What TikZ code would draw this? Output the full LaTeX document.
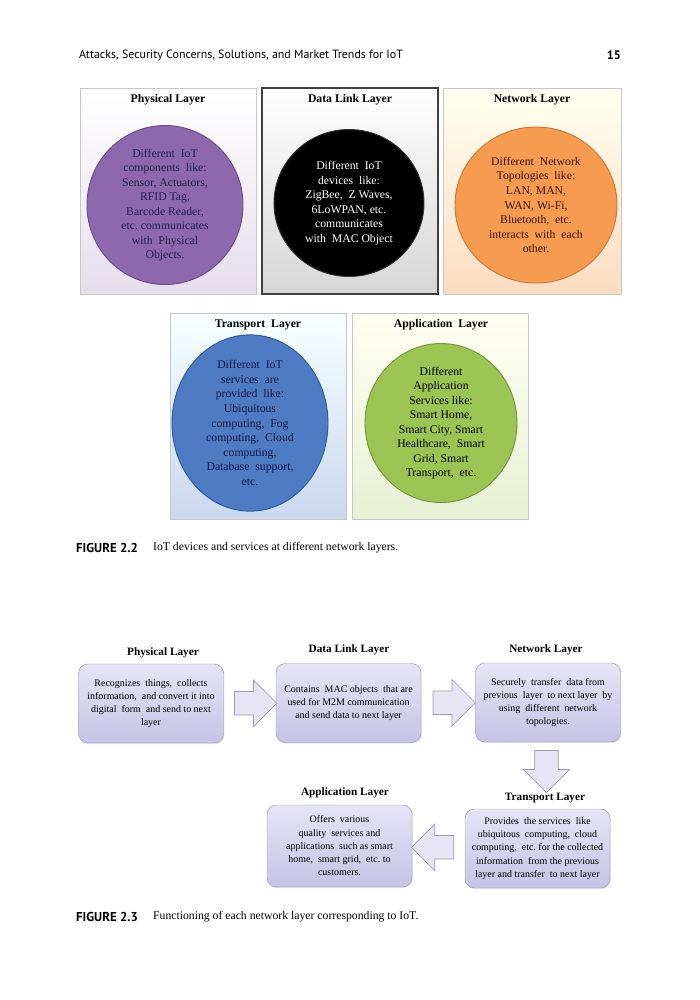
\documentclass[tikz,border=0pt]{standalone}
\usepackage{fontspec}
\setmainfont{Liberation Serif}
\newfontfamily\headfont{PT Sans}
\usepackage{tikz}
\usetikzlibrary{arrows,shapes.geometric,shapes.arrows,calc,shadows}
\usepackage{xcolor}

\newdimen\pxunit
\pxunit=0.03cm

\definecolor{phyfill}{HTML}{8D68AC}
\definecolor{phyline}{HTML}{6A4C8A}
\definecolor{phytext}{HTML}{1F2050}
\definecolor{netfill}{HTML}{F79B50}
\definecolor{netline}{HTML}{C8783A}
\definecolor{nettext}{HTML}{3B1010}
\definecolor{trafill}{HTML}{4E7BC4}
\definecolor{traline}{HTML}{2F5A9A}
\definecolor{tratext}{HTML}{111840}
\definecolor{appfill}{HTML}{9CC455}
\definecolor{appline}{HTML}{76963A}
\definecolor{boxtop}{HTML}{E6E4F5}
\definecolor{boxbot}{HTML}{C6C2E6}
\definecolor{boxline}{HTML}{9A98AC}

\begin{document}
\begin{tikzpicture}[x=0.03cm,y=-0.03cm,
  panel/.style={draw=black!22, line width=0.6pt, minimum width=176\pxunit,
    minimum height=206\pxunit, inner sep=0pt},
  paneltitle/.style={font=\fontsize{10}{12}\selectfont\bfseries},
  blob/.style={ellipse, line width=0.8pt, align=center, inner sep=0pt,
    font=\fontsize{10}{12.4}\selectfont},
  stepbox/.style={draw=boxline, rounded corners=8pt, top color=boxtop,
    bottom color=boxbot, minimum width=145\pxunit, minimum height=79\pxunit,
    align=center, font=\fontsize{8.5}{11.3}\selectfont,
    drop shadow={opacity=0.2, shadow xshift=0.8pt, shadow yshift=-1pt}},
  steptitle/.style={font=\fontsize{9.6}{11}\selectfont\bfseries},
  blockarrow/.style={single arrow, draw=boxline, fill=boxtop, line width=0.6pt,
    inner xsep=0pt, inner ysep=9.8pt, minimum height=36pt,
    single arrow head extend=9.7pt}]
\useasboundingbox (0,0) rectangle (700,1000);

% running head
\node[anchor=west, font=\headfont\fontsize{10.2}{12}\selectfont] (runhead) at (75,55)
  {Attacks, Security Concerns, Solutions, and Market Trends for IoT};
\node[anchor=east, font=\headfont\bfseries\fontsize{10.5}{12}\selectfont] (pageno) at (625,55) {15};

% figure 2.2 : the five layers
\node[panel, top color=white, bottom color=phyfill!22] (phyPanel) at (168,191) {};
\node[panel, draw=black!75, line width=1.2pt, top color=white, bottom color=black!16] (dllPanel) at (350,191) {};
\node[panel, minimum width=178\pxunit, top color=yellow!6, bottom color=netfill!35] (netPanel) at (532,191) {};
\node[panel, top color=cyan!3, bottom color=trafill!30] (traPanel) at (258.5,416) {};
\node[panel, top color=yellow!5, bottom color=appfill!25] (appPanel) at (440.5,416) {};

\node[paneltitle] (phyTitle) at (168,100) {Physical Layer};
\node[paneltitle] (dllTitle) at (350,100) {Data Link Layer};
\node[paneltitle] (netTitle) at (532,100) {Network Layer};
\node[paneltitle] (traTitle) at (258,325) {Transport\ \ Layer};
\node[paneltitle] (appTitle) at (441,325) {Application\ \ Layer};

\node[blob, draw=phyline, fill=phyfill, text=phytext, minimum width=156\pxunit,
  minimum height=156\pxunit] (phyBlob) at (165,205)
  {Different\ \ IoT\\components\ \ like:\\Sensor, Actuators,\\RFID Tag,\\Barcode Reader,\\
   etc.\ communicates\\with\ \ Physical\\Objects.};
\node[blob, draw=black!80, fill=black, text=white, minimum width=150\pxunit,
  minimum height=147\pxunit] (dllBlob) at (349,203)
  {Different\ \ IoT\\devices\ \ like:\\ZigBee,\ \ Z Waves,\\6LoWPAN, etc.\\communicates\\with\ \ MAC Object};
\node[blob, draw=netline, fill=netfill, text=nettext, minimum width=162\pxunit,
  minimum height=156\pxunit] (netBlob) at (536,205)
  {Different\ \ Network\\Topologies\ \ like:\\LAN, MAN,\\WAN, Wi-Fi,\\Bluetooth,\ \ etc.\\
   interacts\ \ with\ \ each\\other.};
\node[blob, draw=traline, fill=trafill, text=tratext, minimum width=156\pxunit,
  minimum height=156\pxunit] (traBlob) at (250,423)
  {Different\ \ IoT\\services\ \ are\\provided\ \ like:\\Ubiquitous\\computing,\ \ Fog\\
   computing,\ \ Cloud\\computing,\\Database\ \ support,\\etc.};
\node[blob, draw=appline, fill=appfill, text=black, minimum width=152\pxunit,
  minimum height=156\pxunit] (appBlob) at (441,423)
  {Different\\Application\\Services like:\\Smart Home,\\Smart City, Smart\\
   Healthcare,\ \ Smart\\Grid, Smart\\Transport,\ \ etc.};

\node[anchor=west, font=\headfont\bfseries\fontsize{11}{13}\selectfont] (cap22) at (72,548) {FIGURE 2.2};
\node[anchor=west, font=\fontsize{10}{12}\selectfont] (cap22txt) at (149,548)
  {IoT devices and services at different network layers.};

% figure 2.3 : flow through the layers
\node[stepbox] (phyBox) at (151,703.5)
  {Recognizes\ \ things,\ \ collects\\information,\ \ and convert it into\\digital\ \ form\ \ and send to next\\layer};
\node[stepbox] (dllBox) at (348.5,703)
  {Contains\ \ MAC objects\ \ that are\\used for M2M communication\\and send data to next layer};
\node[stepbox] (netBox) at (548,702.5)
  {Securely\ \ transfer\ \ data from\\previous\ \ layer\ \ to next layer\ \ by\\using\ \ different\ \ network\\topologies.};
\node[stepbox] (traBox) at (537.5,848.5)
  {Provides\ \ the services\ \ like\\ubiquitous\ \ computing,\ \ cloud\\computing,\ \ etc.\ for the collected\\
   information\ \ from the previous\\layer and transfer\ \ to next layer};
\node[stepbox, minimum height=82\pxunit] (appBox) at (339.5,846)
  {Offers\ \ various\\quality\ \ services and\\applications\ \ such as smart\\home,\ \ smart grid,\ \ etc.\ to\\customers.};

\node[steptitle] (phyHead) at (163,653) {Physical Layer};
\node[steptitle] (dllHead) at (349,650) {Data Link Layer};
\node[steptitle] (netHead) at (546,650) {Network Layer};
\node[steptitle] (traHead) at (545,798) {Transport Layer};
\node[steptitle] (appHead) at (345,793) {Application Layer};

\node[blockarrow] (arrA) at ($(phyBox.east)!0.5!(dllBox.west)$) {};
\node[blockarrow] (arrB) at ($(dllBox.east)!0.5!(netBox.west)$) {};
\node[blockarrow, shape border rotate=270, inner xsep=9.8pt, inner ysep=0pt] (arrC)
  at ($(netBox.south)!0.5!(traHead.north)$) {};
\node[blockarrow, shape border rotate=180] (arrD) at ($(traBox.west)!0.5!(appBox.east)$) {};

\node[anchor=west, font=\headfont\bfseries\fontsize{11}{13}\selectfont] (cap23) at (72,917) {FIGURE 2.3};
\node[anchor=west, font=\fontsize{10}{12}\selectfont] (cap23txt) at (149,917)
  {Functioning of each network layer corresponding to IoT.};
\end{tikzpicture}
\end{document}
